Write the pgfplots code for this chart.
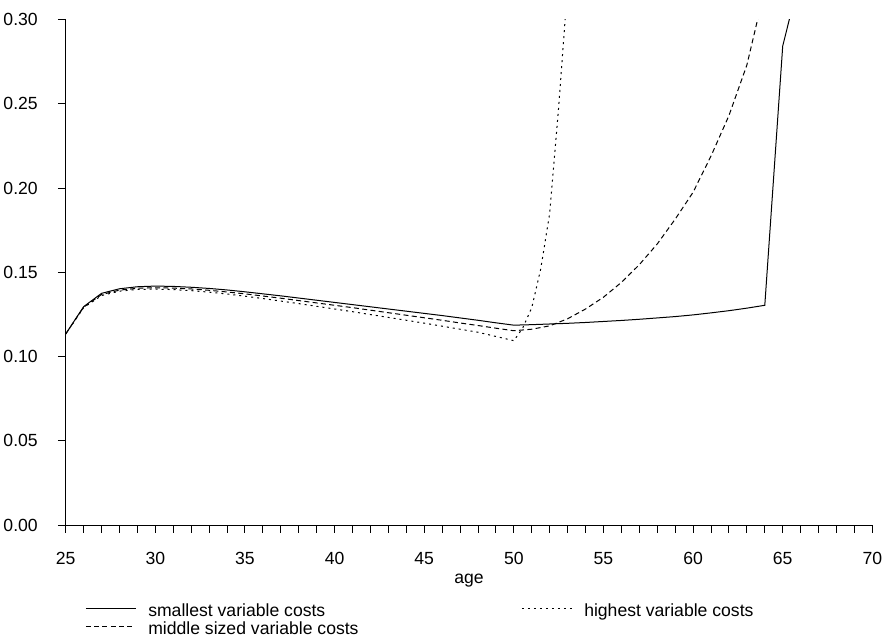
\documentclass[border=0pt]{standalone}
\usepackage{pgfplots}
\pgfplotsset{compat=1.18}
\usepackage{pgfplotstable}
\usepackage{fontspec}
\setmainfont{Liberation Sans}
\newcommand\chartfont{\fontsize{13.2pt}{15.8pt}\selectfont}

\pgfplotstableread{
x y
25 .1134
26 .1296
27 .1375
28 .1402
29 .1414
30 .1418
31 .1416
32 .1411
33 .1404
34 .1395
35 .1384
36 .1372
37 .1360
38 .1347
39 .1334
40 .1321
41 .1308
42 .1295
43 .1282
44 .1269
45 .1256
46 .1243
47 .1229
48 .1215
49 .1200
50 .1186
51 .1189
52 .1193
53 .1197
54 .1202
55 .1208
56 .1214
57 .1221
58 .1229
59 .1237
60 .1247
61 .1259
62 .1272
63 .1287
64 .1304
65 .2843
66 .3270
}\smallest

\pgfplotstableread{
x y
25 .1134
26 .1293
27 .1368
28 .1394
29 .1405
30 .1408
31 .1406
32 .1401
33 .1393
34 .1383
35 .1372
36 .1359
37 .1346
38 .1332
39 .1318
40 .1304
41 .1290
42 .1275
43 .1260
44 .1245
45 .1230
46 .1215
47 .1199
48 .1184
49 .1168
50 .1153
51 .1162
52 .1182
53 .1224
54 .1282
55 .1352
56 .1440
57 .1545
58 .1668
59 .1815
60 .1975
61 .2190
62 .2430
63 .2730
64 .3180
}\middle

\pgfplotstableread{
x y
25 .1134
26 .1290
27 .1362
28 .1388
29 .1398
30 .1400
31 .1397
32 .1391
33 .1382
34 .1371
35 .1358
36 .1344
37 .1329
38 .1314
39 .1298
40 .1282
41 .1266
42 .1249
43 .1232
44 .1215
45 .1198
46 .1180
47 .1162
48 .1144
49 .1119
50 .1094
50.5 .1170
51 .1290
51.5 .1520
52 .1850
52.5 .2480
53 .3200
}\highest

\begin{document}
\begin{tikzpicture}
\useasboundingbox (0,0) rectangle (665.25pt,481.5pt);
\begin{axis}[
  at={(49.3pt,87.75pt)}, anchor=south west,
  scale only axis, width=604.95pt, height=379.1pt,
  xmin=25, xmax=70, ymin=0, ymax=0.30,
  axis x line*=bottom, axis y line*=left,
  axis line style={line width=0.75pt},
  every tick/.style={black, line width=0.75pt},
  tick align=outside,
  major tick length=5.8pt, minor tick length=5.8pt,
  xtick={25,30,...,70}, minor xtick={26,...,69},
  ytick={0,0.05,...,0.301},
  font=\chartfont,
  /pgf/number format/assume math mode=true,
  yticklabel style={/pgf/number format/.cd, fixed, fixed zerofill, precision=2, /tikz/.cd, anchor=east, inner sep=0pt, xshift=-15pt},
  xticklabel style={anchor=base, inner sep=0pt, yshift=-24pt},
  scaled y ticks=false,
  xlabel={age},
  every axis x label/.style={at={(axis description cs:0.5,0)}, anchor=base, inner sep=0pt, yshift=-43.5pt},
  legend columns=2, transpose legend,
  legend image code/.code={\draw[#1] (0pt,3.5pt) -- (37.5pt,3.5pt);},
  legend style={at={(axis description cs:0.0239,-0.156)}, anchor=north west, draw=none, fill=none, inner sep=0pt, font=\chartfont,
    nodes={inner sep=0pt, text height=9.5pt, text depth=4pt},
    row sep=0pt,
    /tikz/every odd column/.append style={column sep=9pt},
    /tikz/every even column/.append style={column sep=122pt}},
  legend cell align=left,
]
\addplot[black, line width=0.75pt] table {\smallest};
\addplot[black, line width=0.75pt, dash pattern=on 3.75pt off 2.5pt] table {\middle};
\addplot[black, line width=0.75pt, dash pattern=on 1.5pt off 3pt] table {\highest};
\legend{smallest variable costs, middle sized variable costs, highest variable costs}
\end{axis}
\end{tikzpicture}
\end{document}
